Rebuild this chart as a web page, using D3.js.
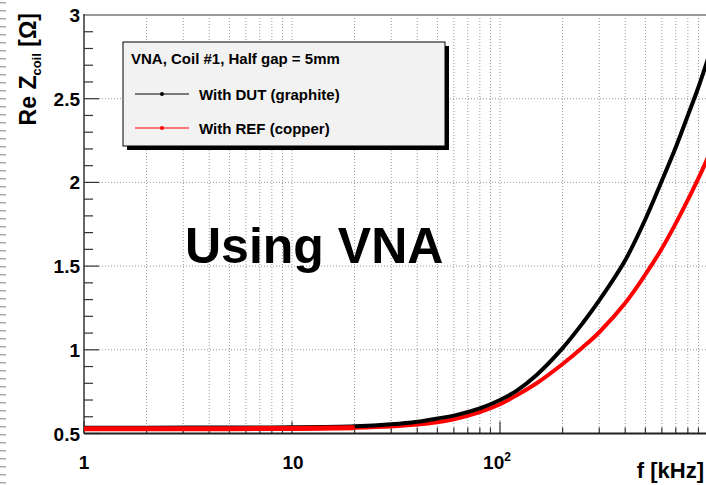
<!DOCTYPE html>
<html>
<head>
<meta charset="utf-8">
<script src="https://cdn.jsdelivr.net/npm/d3@7"></script>
<style>
  body { margin: 0; background: #fff; }
  svg { display: block; font-family: "Liberation Sans", Arial, sans-serif; font-weight: bold; }
</style>
</head>
<body>
<svg width="706" height="485"></svg>
<script>
// frequencies in kHz
const freqs = [1, 2, 5, 10, 20, 30, 40, 50, 60, 80, 100, 120, 150, 200, 250, 300, 400, 500, 600, 700, 800, 900, 1000];
// Re Z_coil [Ohm]
const dutValues = [0.535, 0.535, 0.536, 0.537, 0.543, 0.555, 0.57, 0.59, 0.607, 0.65, 0.70, 0.755, 0.85, 1.01, 1.16, 1.295, 1.535, 1.78, 2.01, 2.21, 2.40, 2.57, 2.74];
const refValues = [0.528, 0.528, 0.529, 0.53, 0.535, 0.542, 0.553, 0.567, 0.585, 0.628, 0.675, 0.728, 0.80, 0.915, 1.015, 1.105, 1.28, 1.45, 1.605, 1.755, 1.895, 2.025, 2.15];
const yTicks = [0.5, 1, 1.5, 2, 2.5, 3];
const xDecades = [1, 10, 100];
const legendTitle = "VNA, Coil #1, Half gap = 5mm";
const seriesNames = ["With DUT (graphite)", "With REF (copper)"];
const seriesColors = ["#000", "#ff0000"];

const onReady = () => {
  const svg = d3.select("svg");
  const left = 84, right = 708, top = 15, bottom = 433.5;

  const x = d3.scaleLog().domain([1, 1000]).range([left, right]);
  const y = d3.scaleLinear().domain([0.5, 3]).range([bottom, top]);

  // page edge dashes
  svg.append("line")
    .attr("x1", 3).attr("x2", 3).attr("y1", 2).attr("y2", 485)
    .attr("stroke", "#aaa").attr("stroke-width", 6)
    .attr("stroke-dasharray", "1.5 6.5");

  // ** GRID ** //
  const minorX = [];
  xDecades.forEach(d => { for (let k = 1; k <= 9; k++) minorX.push(d * k); });

  const grid = svg.append("g").attr("stroke", "#999").attr("stroke-dasharray", "1 2");
  grid.selectAll("line.gx").data(minorX.filter(v => v > 1)).enter().append("line")
    .attr("x1", d => x(d)).attr("x2", d => x(d))
    .attr("y1", top).attr("y2", bottom);
  grid.selectAll("line.gy").data(yTicks.slice(1, -1)).enter().append("line")
    .attr("x1", left).attr("x2", right)
    .attr("y1", d => y(d)).attr("y2", d => y(d));

  // ** AXES ** //
  const yMinor = d3.range(0.5, 3.001, 0.1);
  svg.append("g").attr("stroke", "#333").attr("stroke-width", 1.2)
    .selectAll("line").data(yMinor).enter().append("line")
    .attr("x1", left)
    .attr("x2", d => left + (Math.abs(d * 2 - Math.round(d * 2)) < 1e-6 ? 15 : 9))
    .attr("y1", d => y(d)).attr("y2", d => y(d));

  svg.append("g").attr("stroke", "#333").attr("stroke-width", 1.2)
    .selectAll("line").data(minorX).enter().append("line")
    .attr("x1", d => x(d)).attr("x2", d => x(d))
    .attr("y1", bottom)
    .attr("y2", d => bottom - (xDecades.includes(d) ? 12 : 6));

  svg.append("line").attr("x1", left).attr("x2", 706).attr("y1", top).attr("y2", top)
    .attr("stroke", "#999").attr("stroke-width", 2);
  svg.append("line").attr("x1", left).attr("x2", left).attr("y1", top - 1).attr("y2", bottom)
    .attr("stroke", "#333").attr("stroke-width", 1.5);

  // ** CURVES ** //
  const line = d3.line().x(d => x(d[0])).y(d => y(d[1])).curve(d3.curveCatmullRom.alpha(0.5));
  [refValues, dutValues].forEach((vals, i) => {
    svg.append("path")
      .datum(freqs.map((f, j) => [f, vals[j]]))
      .attr("fill", "none")
      .attr("stroke", i === 0 ? seriesColors[1] : seriesColors[0])
      .attr("stroke-width", 4)
      .attr("d", line);
  });
  // red flat part sits on top of the black one
  svg.append("path")
    .datum(freqs.slice(0, 5).map((f, j) => [f, refValues[j]]))
    .attr("fill", "none").attr("stroke", seriesColors[1]).attr("stroke-width", 5)
    .attr("d", line);

  svg.append("line").attr("x1", left).attr("x2", 706).attr("y1", bottom).attr("y2", bottom)
    .attr("stroke", "#222").attr("stroke-width", 2);

  // ** LABELS ** //
  svg.append("g").selectAll("text").data(yTicks).enter().append("text")
    .attr("x", 80).attr("y", d => y(d) + 7)
    .attr("text-anchor", "end").attr("font-size", 19)
    .text(d => d);

  const xl = svg.append("g").attr("font-size", 19).attr("text-anchor", "middle");
  xl.append("text").attr("x", x(1)).attr("y", 469).text("1");
  xl.append("text").attr("x", x(10) + 1).attr("y", 469).text("10");
  const t2 = xl.append("text").attr("x", x(100) - 3).attr("y", 469);
  t2.append("tspan").text("10");
  t2.append("tspan").attr("font-size", 12).attr("dy", -8).text("2");

  svg.append("text").attr("x", 704).attr("y", 478).attr("text-anchor", "end")
    .attr("font-size", 22).text("f [kHz]");

  const yl = svg.append("text").attr("transform", "translate(36,13) rotate(-90)")
    .attr("text-anchor", "end").attr("font-size", 23);
  yl.append("tspan").text("Re Z");
  yl.append("tspan").attr("font-size", 13).attr("dy", 5).text("coil");
  yl.append("tspan").attr("dy", -5).text(" [Ω]");

  svg.append("text").attr("x", 185).attr("y", 263).attr("font-size", 50).text("Using VNA");

  // ** LEGEND ** //
  const lg = svg.append("g");
  lg.append("rect").attr("x", 127).attr("y", 46).attr("width", 322).attr("height", 104).attr("fill", "#000");
  lg.append("rect").attr("x", 123).attr("y", 42).attr("width", 322).attr("height", 104)
    .attr("fill", "#f2f2f2").attr("stroke", "#000").attr("stroke-width", 1);
  lg.append("text").attr("x", 131).attr("y", 64).attr("font-size", 15).text(legendTitle);
  seriesNames.forEach((name, i) => {
    const ly = 94 + i * 34;
    lg.append("line").attr("x1", 135).attr("x2", 189).attr("y1", ly).attr("y2", ly)
      .attr("stroke", seriesColors[i]).attr("stroke-width", 1);
    lg.append("circle").attr("cx", 162).attr("cy", ly).attr("r", 2).attr("fill", seriesColors[i]);
    lg.append("text").attr("x", 199).attr("y", ly + 5.5).attr("font-size", 15).text(name);
  });
};
document.addEventListener("DOMContentLoaded", onReady);
</script>
</body>
</html>
